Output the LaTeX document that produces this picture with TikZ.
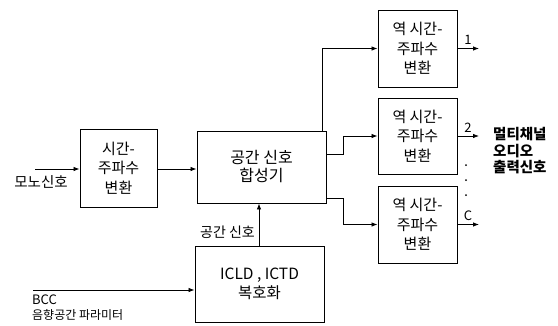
\documentclass[tikz,border=0pt]{standalone}
\usepackage{fontspec}
\setmainfont{Noto Sans CJK KR}
\usetikzlibrary{arrows.meta,calc}
\begin{document}
\begin{tikzpicture}[x=1pt,y=-1pt,
  blk/.style={draw,line width=0.9pt,inner sep=0pt,align=center,font=\fontsize{15}{19.5}\selectfont},
  con/.style={line width=0.8pt,-{Latex[length=6pt,width=4.5pt]}},
  lbl/.style={font=\fontsize{12}{15}\selectfont,inner sep=0pt}]
\useasboundingbox (0,0) rectangle (558,325);
\node[blk,minimum width=77pt,minimum height=78pt] (tf) at (118.5,168) {시간-\\주파수\\변환};
\node[blk,minimum width=129pt,minimum height=72pt,font=\fontsize{16}{18}\selectfont] (syn) at (261.5,167) {공간 신호\\합성기};
\node[blk,minimum width=129pt,minimum height=76pt,font=\fontsize{15.5}{19}\selectfont] (dec) at (259.5,284) {ICLD , ICTD\\복호화};
\node[blk,minimum width=79pt,minimum height=77pt] (ia) at (417.5,48.5) {역 시간-\\주파수\\변환};
\node[blk,minimum width=79pt,minimum height=76pt] (ib) at (417.5,136) {역 시간-\\주파수\\변환};
\node[blk,minimum width=79pt,minimum height=77pt] (ic) at (417.5,224.5) {역 시간-\\주파수\\변환};
\coordinate (mono) at (35,169);
\coordinate (bcc) at (33,290);
\coordinate (oa) at (479,48.5);
\coordinate (ob) at (479,136);
\coordinate (oc) at (479,224.5);
\coordinate (sa) at (322,0);
\coordinate (jb) at (343,154);
\coordinate (jc) at (343,198);
\node[lbl,font=\fontsize{14.5}{15}\selectfont] (monolbl) at (41,182) {모노신호};
\node[lbl,anchor=west,font=\fontsize{13}{15}\selectfont] (bcclbl) at (32,300) {BCC};
\node[lbl,anchor=west] (bcc2) at (32,315) {음향공간 파라미터};
\node[lbl,anchor=east,font=\fontsize{14}{15}\selectfont] (sp) at (255,232) {공간 신호};
\node[lbl,font=\fontsize{13}{15}\selectfont] (l1) at (468,40) {1};
\node[lbl,font=\fontsize{13}{15}\selectfont] (l2) at (468,128) {2};
\node[lbl,font=\fontsize{13}{15}\selectfont] (l3) at (468,216) {C};
\node[lbl,anchor=west,align=left,font=\bfseries\fontsize{14.5}{16.5}\selectfont] (out) at (493,151) {멀티채널\\오디오\\출력신호};
\foreach \yy in {165,180,195} \fill (466,\yy) circle (1pt);
\draw[con] (mono) -- (mono -| tf.west);
\draw[con] (tf.east |- 0,169) -- (syn.west |- 0,169);
\draw[con] (bcc) -- (bcc -| dec.west);
\draw[con] (dec.north -| 259,0) -- (syn.south -| 259,0);
\draw[con] (sa |- syn.north) |- (ia.west);
\draw[con] (syn.east |- jb) -- (jb) |- (ib.west);
\draw[con] (syn.east |- jc) -- (jc) |- (ic.west);
\draw[con] (ia.east) -- (oa);
\draw[con] (ib.east) -- (ob);
\draw[con] (ic.east) -- (oc);
\end{tikzpicture}
\end{document}
